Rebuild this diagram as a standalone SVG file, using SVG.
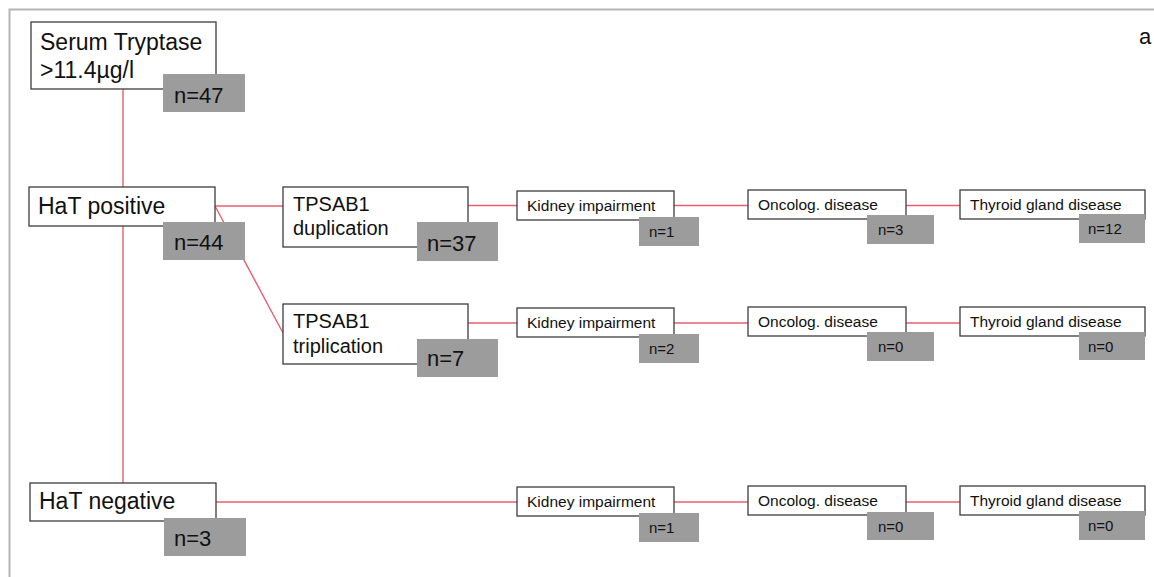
<svg xmlns="http://www.w3.org/2000/svg" width="1154" height="577" viewBox="0 0 1154 577">
<style>
.box{fill:#ffffff;stroke:#3c3c3c;stroke-width:1.3}
.cnt{fill:#9c9c9c}
.big{font-family:"Liberation Sans",Arial,sans-serif;font-size:22px;fill:#111}
.lbl{font-family:"Liberation Sans",Arial,sans-serif;font-size:23px;fill:#111}
.mid{font-family:"Liberation Sans",Arial,sans-serif;font-size:20px;fill:#111}
.sm{font-family:"Liberation Sans",Arial,sans-serif;font-size:15.5px;fill:#111}
.ns{font-family:"Liberation Sans",Arial,sans-serif;font-size:15px;fill:#111}
.ln{stroke:#e5606c;stroke-width:1.4;fill:none}
</style>
<rect width="1154" height="577" fill="#ffffff"/>
<path d="M9.5 577 V9.5 H1154" fill="none" stroke="#b5b5b5" stroke-width="2"/>
<text class="big" x="1139" y="44">a</text>
<g id="connectors">
<line class="ln" x1="123" y1="89" x2="123" y2="483"/>
<line class="ln" x1="215" y1="206" x2="283" y2="206"/>
<line class="ln" x1="215" y1="206" x2="283" y2="333"/>
<line class="ln" x1="468" y1="205.5" x2="517" y2="205.5"/>
<line class="ln" x1="674" y1="205.5" x2="748" y2="205.5"/>
<line class="ln" x1="906" y1="205.5" x2="960" y2="205.5"/>
<line class="ln" x1="468" y1="323" x2="517" y2="323"/>
<line class="ln" x1="674" y1="323" x2="748" y2="323"/>
<line class="ln" x1="906" y1="323" x2="960" y2="323"/>
<line class="ln" x1="216" y1="502" x2="517" y2="502"/>
<line class="ln" x1="674" y1="502" x2="748" y2="502"/>
<line class="ln" x1="906" y1="502" x2="960" y2="502"/>
</g>
<g id="serum">
<rect class="box" x="31" y="22" width="185" height="67"/>
<text class="lbl" x="40" y="50">Serum Tryptase</text>
<text class="lbl" x="40" y="78">&gt;11.4µg/l</text>
<rect class="cnt" x="163" y="74" width="82" height="38"/>
<text class="big" x="174" y="103">n=47</text>
</g>
<g id="hat-positive">
<rect class="box" x="29" y="187" width="186" height="39"/>
<text class="lbl" x="38" y="214">HaT positive</text>
<rect class="cnt" x="163" y="222" width="82" height="38"/>
<text class="big" x="174" y="250">n=44</text>
</g>
<g id="dup">
<rect class="box" x="283" y="187" width="185" height="60"/>
<text class="mid" x="293" y="211">TPSAB1</text>
<text class="mid" x="293" y="235">duplication</text>
<rect class="cnt" x="417" y="222" width="81" height="39"/>
<text class="big" x="427" y="251">n=37</text>
</g>
<g id="trip">
<rect class="box" x="283" y="304" width="185" height="60"/>
<text class="mid" x="293" y="328">TPSAB1</text>
<text class="mid" x="293" y="353">triplication</text>
<rect class="cnt" x="417" y="339" width="81" height="38"/>
<text class="big" x="427" y="366">n=7</text>
</g>
<g id="hat-negative">
<rect class="box" x="30" y="483" width="186" height="38"/>
<text class="lbl" x="39" y="509">HaT negative</text>
<rect class="cnt" x="164" y="518" width="82" height="38"/>
<text class="big" x="174" y="546">n=3</text>
</g>
<g id="kidney1">
<rect class="box" x="517" y="191" width="157" height="29"/>
<text class="sm" x="527" y="211">Kidney impairment</text>
<rect class="cnt" x="639" y="217" width="60" height="29"/>
<text class="ns" x="649" y="237">n=1</text>
</g>
<g id="onco1">
<rect class="box" x="748" y="190" width="158" height="29"/>
<text class="sm" x="758" y="210">Oncolog. disease</text>
<rect class="cnt" x="867" y="215" width="67" height="29"/>
<text class="ns" x="878" y="235">n=3</text>
</g>
<g id="thyroid1">
<rect class="box" x="960" y="190" width="185" height="29"/>
<text class="sm" x="970" y="210">Thyroid gland disease</text>
<rect class="cnt" x="1079" y="214" width="66" height="29"/>
<text class="ns" x="1088" y="234">n=12</text>
</g>
<g id="kidney2">
<rect class="box" x="517" y="308" width="157" height="29"/>
<text class="sm" x="527" y="328">Kidney impairment</text>
<rect class="cnt" x="639" y="334" width="60" height="29"/>
<text class="ns" x="649" y="354">n=2</text>
</g>
<g id="onco2">
<rect class="box" x="748" y="307" width="158" height="29"/>
<text class="sm" x="758" y="327">Oncolog. disease</text>
<rect class="cnt" x="867" y="332" width="67" height="29"/>
<text class="ns" x="878" y="352">n=0</text>
</g>
<g id="thyroid2">
<rect class="box" x="960" y="307" width="185" height="29"/>
<text class="sm" x="970" y="327">Thyroid gland disease</text>
<rect class="cnt" x="1079" y="332" width="66" height="28"/>
<text class="ns" x="1088" y="352">n=0</text>
</g>
<g id="kidney3">
<rect class="box" x="517" y="487" width="157" height="29"/>
<text class="sm" x="527" y="507">Kidney impairment</text>
<rect class="cnt" x="639" y="513" width="60" height="29"/>
<text class="ns" x="649" y="533">n=1</text>
</g>
<g id="onco3">
<rect class="box" x="748" y="486" width="158" height="29"/>
<text class="sm" x="758" y="506">Oncolog. disease</text>
<rect class="cnt" x="867" y="512" width="67" height="28"/>
<text class="ns" x="878" y="532">n=0</text>
</g>
<g id="thyroid3">
<rect class="box" x="960" y="486" width="185" height="29"/>
<text class="sm" x="970" y="506">Thyroid gland disease</text>
<rect class="cnt" x="1079" y="511" width="66" height="29"/>
<text class="ns" x="1088" y="531">n=0</text>
</g>
</svg>
